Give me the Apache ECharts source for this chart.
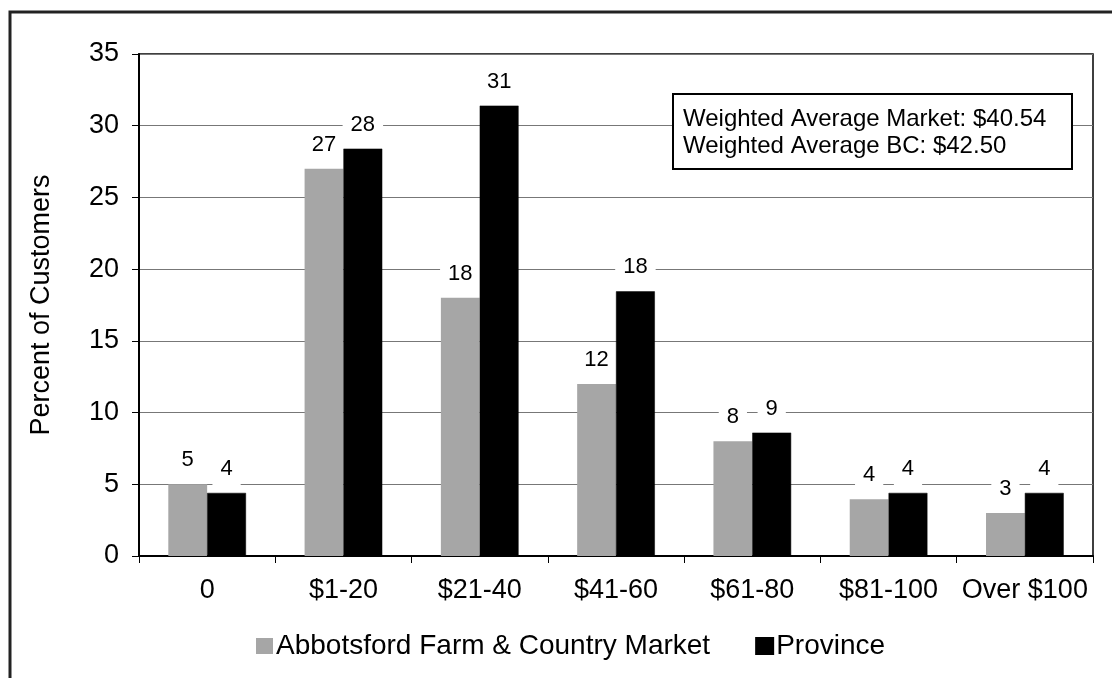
<!DOCTYPE html>
<html>
<head>
<meta charset="utf-8">
<script src="https://cdn.jsdelivr.net/npm/echarts@6/dist/echarts.min.js"></script>
<style>
html,body{margin:0;padding:0;background:#fff;}
#chart{width:1112px;height:678px;}
</style>
</head>
<body>
<div id="chart"></div>
<script>
const categories = ['0', '$1-20', '$21-40', '$41-60', '$61-80', '$81-100', 'Over $100'];
const marketValues = [5, 27, 18, 12, 8, 3.95, 3];
const provinceValues = [4.4, 28.4, 31.4, 18.45, 8.6, 4.4, 4.4];
const seriesNames = ['Abbotsford Farm & Country Market', 'Province'];
const yTicks = { min: 0, max: 35, interval: 5 };
const yAxisTitle = 'Percent of Customers';
const noteLines = ['Weighted Average Market: $40.54', 'Weighted Average BC: $42.50'];

const FONT = '"Liberation Sans", Arial, sans-serif';
const chart = echarts.init(document.getElementById('chart'));

const labelCfg = {
  show: true,
  position: 'top',
  distance: 7,
  fontFamily: FONT,
  fontSize: 22,
  lineHeight: 22,
  color: '#000',
  backgroundColor: '#fff',
  padding: [6, 8],
  formatter: p => String(Math.round(p.value))
};

chart.setOption({
  animation: false,
  backgroundColor: '#fff',
  textStyle: { fontFamily: FONT },
  grid: { left: 139, top: 54, width: 954, height: 502, show: true, borderColor: '#000', borderWidth: 1.5, containLabel: false },
  legend: {
    data: seriesNames,
    left: 251,
    top: 627,
    itemWidth: 17,
    itemHeight: 16,
    itemGap: 45,
    icon: 'rect',
    textStyle: { fontFamily: FONT, fontSize: 28, color: '#000', padding: [0, 0, 0, -2] }
  },
  xAxis: {
    type: 'category',
    data: categories,
    axisLine: { lineStyle: { color: '#000', width: 2 } },
    axisTick: { show: true, alignWithLabel: false, length: 7, lineStyle: { color: '#000', width: 1 } },
    axisLabel: { fontFamily: FONT, fontSize: 27, color: '#000', margin: 21, interval: 0 },
    splitLine: { show: false }
  },
  yAxis: {
    type: 'value',
    min: yTicks.min,
    max: yTicks.max,
    interval: yTicks.interval,
    name: yAxisTitle,
    nameLocation: 'middle',
    nameGap: 84,
    nameRotate: 90,
    nameTextStyle: { fontFamily: FONT, fontSize: 27, color: '#000' },
    axisLine: { show: true, lineStyle: { color: '#000', width: 2 } },
    axisTick: { show: true, length: 7, lineStyle: { color: '#000', width: 1 } },
    axisLabel: { fontFamily: FONT, fontSize: 27, color: '#000', margin: 20 },
    splitLine: { show: true, lineStyle: { color: '#777', width: 1 } }
  },
  series: [
    {
      name: seriesNames[0],
      type: 'bar',
      data: marketValues,
      barGap: '0%',
      barCategoryGap: '43%',
      itemStyle: { color: '#a6a6a6' },
      label: labelCfg,
      z: 2
    },
    {
      name: seriesNames[1],
      type: 'bar',
      data: provinceValues,
      barGap: '0%',
      barCategoryGap: '43%',
      itemStyle: { color: '#000', borderColor: '#000', borderWidth: 0.5 },
      label: labelCfg,
      z: 3
    }
  ],
  graphic: [
    {
      type: 'polyline',
      shape: { points: [[10, 678], [10, 12], [1112, 12]] },
      style: { stroke: '#222', lineWidth: 3, fill: null },
      z: 10
    },
    {
      type: 'rect',
      z: 100,
      shape: { x: 673, y: 94, width: 399, height: 75 },
      style: { fill: '#fff', stroke: '#000', lineWidth: 2 }
    },
    {
      type: 'text',
      z: 101,
      x: 683,
      y: 106,
      style: {
        text: noteLines.join('\n'),
        font: '24px ' + FONT,
        lineHeight: 27,
        fill: '#000'
      }
    }
  ]
});
</script>
</body>
</html>
